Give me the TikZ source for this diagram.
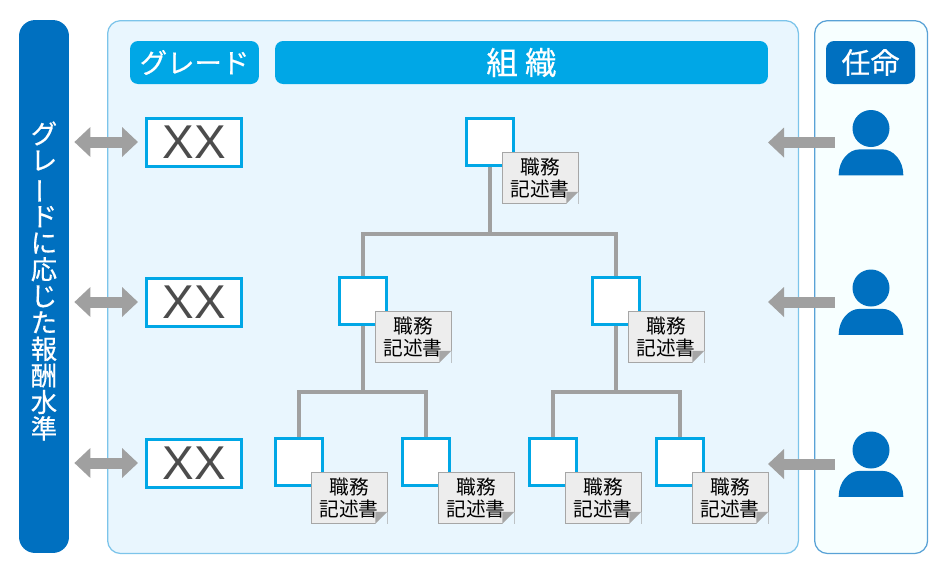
\documentclass[tikz,border=0pt]{standalone}
\usepackage{fontspec}
\usepackage{graphicx}
\setmainfont{Liberation Sans}
\newfontfamily\cjk{Noto Sans CJK JP}
\newfontfamily\cjkb[FakeBold=0.5]{Noto Sans CJK JP}
\usetikzlibrary{arrows.meta}
\definecolor{barblue}{HTML}{0070C0}
\definecolor{headblue}{HTML}{00A7E6}
\definecolor{panelblue}{HTML}{E9F6FE}
\definecolor{paneledge}{HTML}{7CC4EA}
\definecolor{linegray}{HTML}{A0A0A0}
\begin{document}
\begin{tikzpicture}
    [
        x=0.02cm, y=-0.02cm,
        panel style/.style={draw=#1, line width=0.025cm, rounded corners=0.26cm, anchor=north west},
        header style/.style={fill=#1, text=white, rounded corners=0.16cm, minimum height=0.86cm},
        grade style/.style={draw=headblue, fill=white, line width=0.06cm, minimum width=1.9cm, minimum height=0.96cm, font=\fontsize{27}{27}\selectfont, text=black!70},
        post style/.style={draw=headblue, fill=white, line width=0.06cm, minimum width=0.94cm, minimum height=0.94cm},
        doc style/.style={draw=black!35, fill=black!7, line width=0.012cm, minimum width=1.52cm, minimum height=1.02cm, inner sep=0pt, align=center, font=\cjk\fontsize{11.2}{12.4}\selectfont},
        tree style/.style={draw=linegray, line width=0.09cm},
        arrow style/.style={draw=linegray, line width=0.22cm, {Triangle[length=0.32cm, width=0.58cm]}-{Triangle[length=0.32cm, width=0.58cm]}},
        back style/.style={draw=linegray, line width=0.22cm, -{Triangle[length=0.32cm, width=0.58cm]}}
    ]
    \useasboundingbox (0,0) rectangle (946,576);
    % panels
    \node[panel style=paneledge, fill=panelblue, minimum width=13.82cm, minimum height=10.66cm] (orgpanel) at (107,20) {};
    \node[panel style=barblue!65!white, fill=blue!1!cyan!3!white, minimum width=2.26cm, minimum height=10.66cm] (postpanel) at (814,20) {};
    \node[fill=barblue, rounded corners=0.32cm, minimum width=1cm, minimum height=10.66cm] (bar) at (44,286.5) {};
    \node[text=white, align=center, inner sep=0pt, font=\cjkb\fontsize{15}{15.1}\selectfont] (bartext) at (44,281)
        {グ\\レ\\\rotatebox[origin=c]{90}{ー}\\ド\\に\\応\\じ\\た\\報\\酬\\水\\準};
    % headers
    \node[header style=headblue, minimum width=2.58cm, font=\cjkb\fontsize{15.6}{18}\selectfont] (gradehead) at (194.5,62.5) {グレード};
    \node[header style=headblue, minimum width=9.86cm, font=\cjkb\fontsize{18}{18}\selectfont] (orghead) at (521.5,62.5) {組 織};
    \node[header style=barblue, minimum width=1.78cm, font=\cjkb\fontsize{16.5}{18}\selectfont] (posthead) at (870.5,62.5) {任命};
    % grades and arrows
    \foreach \n/\y in {1/142, 2/302, 3/463} {
        \node[grade style] (grade\n) at (194,\y) {XX};
        \path (bar.east |- grade\n) coordinate (barend\n);
        \draw[arrow style, shorten <=0.1cm, shorten >=0.14cm] (barend\n) -- (grade\n.west);
    }
    % org tree
    \node[post style] (root) at (490,142) {};
    \node[post style] (midl) at (363,301) {};
    \node[post style] (midr) at (616,301) {};
    \node[post style] (leafa) at (299,462) {};
    \node[post style] (leafb) at (426,462) {};
    \node[post style] (leafc) at (553,462) {};
    \node[post style] (leafd) at (680,462) {};
    \coordinate (jroot) at (490,234);
    \coordinate (jmidl) at (363,392);
    \coordinate (jmidr) at (616,392);
    \draw[tree style] (root) -- (jroot);
    \draw[tree style] (midl.north) |- (jroot) -| (midr.north);
    \draw[tree style] (midl) -- (jmidl);
    \draw[tree style] (midr) -- (jmidr);
    \draw[tree style] (leafa.north) |- (jmidl) -| (leafb.north);
    \draw[tree style] (leafc.north) |- (jmidr) -| (leafd.north);
    % job description sheets
    \foreach \n in {root,midl,midr,leafa,leafb,leafc,leafd} {
        \node[doc style] (doc\n) at ([shift={(50,36)}]\n.center) {職務\\記述書};
        \fill[panelblue] (doc\n.south east) -- ++(-12,0) -- ++(12,-12) -- cycle;
        \fill[black!35] (doc\n.south east) ++(-12,0) -- ++(0,-12) -- ++(12,0) -- cycle;
    }
    % people
    \foreach \n/\y in {1/142.5, 2/302, 3/464} {
        \node[minimum width=1.28cm, minimum height=1.3cm, inner sep=0pt] (person\n) at (871,\y) {};
        \node[circle, fill=barblue, minimum size=0.74cm, inner sep=0pt, anchor=north] (head\n) at (person\n.north) {};
        \fill[barblue] (person\n.south west) .. controls ([yshift=0.3cm]person\n.south west) and ([xshift=0.2cm,yshift=0.52cm]person\n.south west) .. ([xshift=0.42cm,yshift=0.52cm]person\n.south west) -- ([xshift=-0.42cm,yshift=0.52cm]person\n.south east) .. controls ([xshift=-0.2cm,yshift=0.52cm]person\n.south east) and ([yshift=0.3cm]person\n.south east) .. (person\n.south east) -- cycle;
        \coordinate (tip\n) at (768,\y);
        \draw[back style, shorten <=0.08cm] (person\n.west) -- (tip\n);
    }
\end{tikzpicture}
\end{document}
